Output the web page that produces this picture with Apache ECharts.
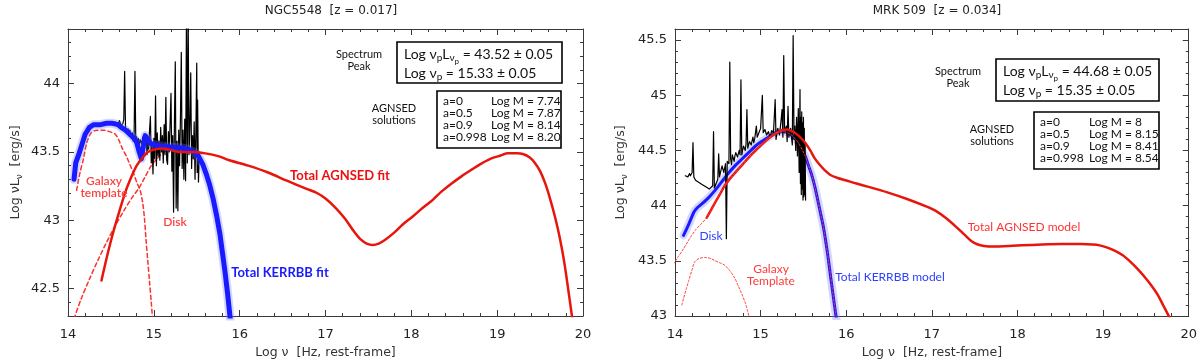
<!DOCTYPE html>
<html><head><meta charset="utf-8">
<script src="https://cdn.jsdelivr.net/npm/echarts@6/dist/echarts.min.js"></script>
<style>html,body{margin:0;padding:0;background:#fff}#c{width:1200px;height:364px}</style>
</head><body><div id="c"></div>
<script>
// ---------- tick values ----------
const leftYMajor = [42.5, 43, 43.5, 44];
const leftYMinor = [42.4, 42.5, 42.6, 42.7, 42.8, 42.9, 43.0, 43.1, 43.2, 43.3, 43.4, 43.5, 43.6, 43.7, 43.8, 43.9, 44.0, 44.1, 44.2, 44.3];
const rightYMajor = [43, 43.5, 44, 44.5, 45, 45.5];
const rightYMinor = [43.1, 43.2, 43.3, 43.4, 43.5, 43.6, 43.7, 43.8, 43.9, 44.0, 44.1, 44.2, 44.3, 44.4, 44.5, 44.6, 44.7, 44.8, 44.9, 45.0, 45.1, 45.2, 45.3, 45.4, 45.5];

// ---------- NGC5548 ----------
const ngcKerrbb = [[14.07,43.30],[14.09,43.42],[14.13,43.49],[14.17,43.57],[14.20,43.63],[14.25,43.68],[14.30,43.70],[14.38,43.70],[14.45,43.71],[14.52,43.71],[14.58,43.70],[14.62,43.68],[14.67,43.66],[14.72,43.63],[14.77,43.60],[14.80,43.57],[14.83,43.50],[14.855,43.45],[14.875,43.53],[14.90,43.62],[14.93,43.59],[14.97,43.56],[15.03,43.55],[15.12,43.54],[15.22,43.535],[15.32,43.53],[15.40,43.52],[15.47,43.50],[15.52,43.47],[15.57,43.41],[15.61,43.34],[15.65,43.26],[15.69,43.16],[15.73,43.04],[15.77,42.90],[15.80,42.76],[15.83,42.62],[15.86,42.46],[15.89,42.28]];
const ngcAgnsed = [[14.39,42.56],[14.46,42.75],[14.53,42.92],[14.60,43.07],[14.67,43.21],[14.74,43.32],[14.80,43.40],[14.87,43.46],[14.93,43.50],[15.02,43.52],[15.10,43.525],[15.20,43.515],[15.30,43.50],[15.45,43.50],[15.60,43.49],[15.75,43.47],[15.88,43.44],[16.10,43.40],[16.33,43.35],[16.55,43.29],[16.78,43.23],[16.90,43.20],[17.00,43.16],[17.12,43.09],[17.23,43.01],[17.33,42.92],[17.41,42.86],[17.48,42.83],[17.55,42.82],[17.62,42.83],[17.70,42.86],[17.80,42.91],[17.90,42.97],[18.02,43.03],[18.13,43.09],[18.25,43.15],[18.35,43.21],[18.47,43.27],[18.58,43.32],[18.70,43.37],[18.80,43.41],[18.92,43.45],[19.02,43.47],[19.12,43.49],[19.23,43.49],[19.30,43.485],[19.38,43.46],[19.44,43.42],[19.50,43.36],[19.56,43.27],[19.62,43.15],[19.68,43.01],[19.73,42.87],[19.78,42.70],[19.82,42.53],[19.86,42.35],[19.88,42.26]];
const ngcGalaxy = [[14.10,43.22],[14.14,43.35],[14.18,43.45],[14.22,43.57],[14.27,43.64],[14.34,43.66],[14.41,43.66],[14.48,43.65],[14.55,43.63],[14.59,43.59],[14.63,43.53],[14.68,43.47],[14.72,43.41],[14.76,43.35],[14.80,43.28],[14.84,43.22],[14.87,43.13],[14.89,43.02],[14.91,42.85],[14.93,42.70],[14.95,42.55],[14.97,42.40],[14.985,42.28]];
const ngcDisk = [[14.07,42.28],[14.15,42.42],[14.25,42.57],[14.35,42.71],[14.45,42.84],[14.55,42.96],[14.65,43.07],[14.75,43.17],[14.82,43.23],[14.90,43.32],[14.97,43.40],[15.05,43.46],[15.12,43.50],[15.20,43.52]];
const ngcSpectrum = [[14.52,43.71],[14.55,43.72],[14.58,43.70],[14.60,43.73],[14.62,43.69],[14.64,43.71],[14.65,43.74],[14.66,44.09],[14.67,43.68],[14.68,43.64],[14.70,43.67],[14.71,43.62],[14.72,43.66],[14.74,43.60],[14.75,43.64],[14.76,43.58],[14.77,43.62],[14.78,44.09],[14.79,43.57],[14.80,43.61],[14.81,43.55],[14.82,43.60],[14.83,43.53],[14.84,43.59],[14.86,43.56],[14.87,43.61],[14.88,43.52],[14.89,43.63],[14.90,43.55],[14.91,43.60],[14.92,43.48],[14.93,43.58],[14.94,43.52],[14.95,43.66],[14.96,43.76],[14.97,43.42],[14.98,43.56],[14.99,43.34],[15.00,43.60],[15.01,43.45],[15.02,43.91],[15.03,43.40],[15.04,43.64],[15.05,43.47],[15.06,43.58],[15.07,43.44],[15.08,43.68],[15.09,43.50],[15.10,43.62],[15.11,43.42],[15.12,43.70],[15.13,43.48],[15.14,43.90],[15.15,43.44],[15.16,43.41],[15.17,43.65],[15.18,43.50],[15.19,43.72],[15.20,43.93],[15.21,43.36],[15.22,43.62],[15.23,43.06],[15.24,43.72],[15.25,44.16],[15.26,43.09],[15.27,43.58],[15.28,43.07],[15.29,43.66],[15.30,43.40],[15.31,43.75],[15.32,44.23],[15.33,43.38],[15.34,43.66],[15.35,43.30],[15.36,43.74],[15.37,43.29],[15.38,44.50],[15.39,43.42],[15.40,44.50],[15.41,43.48],[15.42,43.70],[15.43,44.08],[15.44,43.38],[15.45,43.62],[15.46,43.45],[15.47,43.72],[15.48,43.30],[15.49,43.66],[15.50,44.15],[15.505,43.35],[15.51,43.88],[15.52,43.28],[15.53,43.50]];

// ---------- MRK 509 ----------
const mrkKerrbb = [[14.10,43.73],[14.16,43.83],[14.22,43.94],[14.26,43.98],[14.32,44.02],[14.39,44.07],[14.47,44.14],[14.54,44.21],[14.62,44.29],[14.70,44.36],[14.78,44.42],[14.86,44.48],[14.94,44.54],[15.01,44.58],[15.09,44.62],[15.17,44.66],[15.22,44.67],[15.27,44.67],[15.32,44.66],[15.36,44.64],[15.40,44.61],[15.44,44.57],[15.48,44.51],[15.52,44.45],[15.56,44.36],[15.60,44.27],[15.64,44.15],[15.67,44.04],[15.70,43.93],[15.73,43.82],[15.76,43.68],[15.79,43.52],[15.82,43.34],[15.85,43.17],[15.88,43.00],[15.90,42.90]];
const mrkAgnsed = [[14.37,43.89],[14.42,43.96],[14.47,44.03],[14.53,44.11],[14.58,44.18],[14.66,44.26],[14.74,44.33],[14.82,44.40],[14.89,44.46],[14.97,44.52],[15.05,44.58],[15.13,44.63],[15.21,44.67],[15.26,44.685],[15.30,44.69],[15.35,44.68],[15.40,44.66],[15.46,44.62],[15.52,44.57],[15.58,44.50],[15.63,44.43],[15.69,44.37],[15.75,44.32],[15.81,44.28],[15.90,44.25],[15.99,44.23],[16.12,44.20],[16.26,44.17],[16.48,44.12],[16.71,44.06],[16.94,43.99],[17.05,43.95],[17.16,43.89],[17.28,43.81],[17.39,43.73],[17.46,43.68],[17.53,43.65],[17.61,43.635],[17.72,43.63],[17.84,43.632],[18.05,43.64],[18.29,43.648],[18.52,43.652],[18.74,43.652],[18.88,43.648],[18.96,43.64],[19.05,43.62],[19.14,43.59],[19.23,43.55],[19.32,43.49],[19.41,43.42],[19.50,43.34],[19.57,43.27],[19.64,43.19],[19.70,43.10],[19.76,43.01],[19.80,42.94]];
const mrkGalaxy = [[14.08,43.10],[14.10,43.16],[14.13,43.24],[14.16,43.32],[14.20,43.42],[14.23,43.49],[14.28,43.52],[14.35,43.53],[14.42,43.52],[14.47,43.50],[14.53,43.48],[14.58,43.46],[14.63,43.42],[14.66,43.39],[14.70,43.34],[14.74,43.27],[14.78,43.20],[14.82,43.12],[14.85,43.04],[14.87,42.98]];
const mrkDisk = [[13.98,43.47],[14.04,43.54],[14.10,43.61],[14.17,43.70],[14.24,43.78],[14.30,43.83],[14.37,43.89],[14.47,44.03],[14.58,44.18],[14.74,44.33],[14.89,44.46],[15.05,44.58],[15.17,44.655],[15.27,44.67],[15.36,44.64],[15.44,44.57],[15.52,44.45],[15.60,44.27],[15.67,44.04],[15.73,43.82],[15.79,43.52],[15.85,43.17],[15.90,42.90]];
const mrkSpectrum = [[14.12,44.27],[14.14,44.28],[14.15,44.26],[14.17,44.29],[14.18,44.27],[14.20,44.30],[14.21,44.57],[14.22,44.26],[14.24,44.23],[14.26,44.22],[14.28,44.21],[14.30,44.20],[14.32,44.19],[14.34,44.18],[14.36,44.17],[14.38,44.16],[14.40,44.15],[14.42,44.16],[14.44,44.18],[14.45,44.67],[14.46,44.16],[14.48,44.20],[14.50,44.24],[14.51,44.47],[14.52,44.26],[14.54,44.33],[14.55,44.36],[14.57,44.30],[14.59,44.38],[14.60,43.70],[14.61,44.40],[14.63,44.38],[14.64,45.30],[14.65,44.42],[14.66,44.37],[14.67,44.46],[14.69,44.40],[14.70,44.45],[14.71,44.48],[14.73,44.44],[14.75,44.50],[14.76,44.46],[14.77,45.14],[14.78,44.46],[14.80,44.54],[14.82,44.50],[14.83,44.56],[14.84,44.87],[14.85,44.52],[14.87,44.58],[14.89,44.55],[14.91,44.62],[14.92,44.57],[14.93,44.60],[14.95,44.72],[14.96,44.62],[14.98,44.66],[15.00,44.70],[15.02,45.00],[15.03,44.66],[15.05,44.69],[15.07,44.64],[15.09,44.67],[15.11,44.62],[15.13,44.68],[15.15,44.66],[15.17,44.96],[15.18,44.60],[15.20,44.70],[15.22,44.64],[15.24,44.78],[15.25,44.87],[15.26,44.62],[15.27,45.36],[15.28,44.66],[15.30,44.72],[15.31,44.58],[15.32,44.90],[15.33,44.62],[15.35,44.70],[15.37,44.55],[15.38,45.54],[15.39,44.60],[15.40,44.72],[15.41,44.50],[15.42,44.80],[15.43,44.45],[15.44,44.88],[15.45,44.30],[15.46,45.05],[15.465,44.20],[15.47,44.80],[15.475,44.10],[15.48,44.85],[15.485,44.15],[15.49,44.75],[15.495,44.05],[15.50,44.80],[15.505,44.08],[15.51,44.70],[15.515,44.10],[15.52,44.55],[15.525,44.05]];

const FONT = 'DejaVu Sans';
const LFONT = 'Lato';
const RED = '#e8150c';
const BLUE = '#1a1aff';
const FRAME = '#3a3a3a';

function xAxes(g) {
  const base = {
    type: 'value', gridIndex: g, min: 14, max: 20, interval: 1,
    axisLine: { show: true, onZero: false, lineStyle: { color: FRAME, width: 1 } },
    axisTick: { show: true, inside: true, length: 6, lineStyle: { color: FRAME } },
    minorTick: { show: true, splitNumber: 5, length: 3, lineStyle: { color: FRAME } },
    splitLine: { show: false }
  };
  return [
    Object.assign({}, base, {
      position: 'bottom',
      axisLabel: { color: '#222', fontSize: 13, margin: 12, fontFamily: FONT },
      name: 'Log ν  [Hz, rest-frame]', nameLocation: 'middle', nameGap: 30,
      nameTextStyle: { fontSize: 12.5, color: '#333', fontFamily: FONT }
    }),
    Object.assign({}, base, { position: 'top', axisLabel: { show: false } })
  ];
}
function yAxes(g, min, max, major, minor, gap) {
  const line = { show: true, onZero: false, lineStyle: { color: FRAME, width: 1 } };
  const mk = (pos, isMajor, labels) => ({
    type: 'value', gridIndex: g, min: min, max: max, position: pos,
    axisLine: isMajor ? line : { show: false },
    axisTick: { show: true, inside: true, length: isMajor ? 6 : 3, customValues: isMajor ? major : minor, lineStyle: { color: FRAME } },
    axisLabel: labels ? { show: true, customValues: major, color: '#222', fontSize: 13, margin: 8, fontFamily: FONT } : { show: false },
    splitLine: { show: false },
    name: labels ? 'Log νL{s|ν}  [erg/s]' : '',
    nameLocation: 'middle', nameGap: gap, nameRotate: 90,
    nameTextStyle: { fontSize: 12.5, color: '#333', fontFamily: FONT,
      rich: { s: { fontSize: 9, padding: [8, 0, 0, 0], fontFamily: FONT, color: '#333' } } }
  });
  return [mk('left', true, true), mk('left', false, false), mk('right', true, false), mk('right', false, false)];
}
function ln(data, xi, yi, color, width, type, z, smooth) {
  return { type: 'line', data: data, xAxisIndex: xi, yAxisIndex: yi, showSymbol: false, symbol: 'none',
    smooth: smooth || false, z: z, silent: true,
    lineStyle: { color: color, width: width, type: type || 'solid', cap: 'round', join: 'round' } };
}

const series = [
  ln(ngcGalaxy, 0, 0, '#ff3030', 1.5, [4, 3], 2, 0.3),
  ln(ngcDisk, 0, 0, '#ff3030', 1.5, [4, 3], 2, 0.3),
  ln(ngcSpectrum, 0, 0, '#000', 1.2, 'solid', 3),
  ln(ngcKerrbb, 0, 0, 'rgba(110,120,255,0.3)', 9, 'solid', 4),
  ln(ngcKerrbb, 0, 0, BLUE, 5, 'solid', 5),
  ln(ngcAgnsed, 0, 0, RED, 2.5, 'solid', 6, 0.3),

  ln(mrkGalaxy, 2, 4, '#ff3b3b', 1, [2, 2], 2, 0.3),
  ln(mrkKerrbb, 2, 4, 'rgba(110,120,255,0.3)', 8, 'solid', 3, 0.2),
  ln(mrkKerrbb, 2, 4, BLUE, 3, 'solid', 4, 0.2),
  ln(mrkSpectrum, 2, 4, '#000', 1.2, 'solid', 5),
  ln(mrkAgnsed, 2, 4, RED, 2.5, 'solid', 6, 0.3),
  ln(mrkDisk, 2, 4, '#ff3b3b', 1, [2, 2], 7, 0.2)
];

function txt(x, y, text, opt) {
  return { type: 'text', x: x, y: y, z: 100, silent: true,
    style: Object.assign({ text: text, fill: '#111', font: '11px ' + LFONT, align: 'center', verticalAlign: 'middle',
      textAlign: 'center', textVerticalAlign: 'middle' }, opt || {}) };
}
function rect(x, y, w, h) {
  return { type: 'rect', z: 100, silent: true, shape: { x: x, y: y, width: w, height: h },
    style: { fill: 'rgba(255,255,255,0)', stroke: '#000', lineWidth: 1.6 } };
}
const peakRich = {
  s: { fontSize: 10, fontFamily: LFONT, fill: '#111', padding: [8, 0, 0, 0] },
  ss: { fontSize: 8, fontFamily: LFONT, fill: '#111', padding: [14, 0, 0, 0] }
};
function peakBox(x, y, w, h, lum, nu) {
  return [
    rect(x, y, w, h),
    txt(x + 7, y + 12, 'Log ν{s|p}L{s|ν}{ss|p} = ' + lum + ' ± 0.05', { align: 'left', textAlign: 'left', font: '14px ' + LFONT, rich: peakRich }),
    txt(x + 7, y + 31, 'Log ν{s|p} = ' + nu + ' ± 0.05', { align: 'left', textAlign: 'left', font: '14px ' + LFONT, rich: peakRich })
  ];
}
function massBox(x, y, w, h, masses, colOffset) {
  const spins = ['a=0', 'a=0.5', 'a=0.9', 'a=0.998'];
  const els = [rect(x, y, w, h)];
  spins.forEach((s, i) => {
    els.push(txt(x + 6, y + 10 + i * 12.2, s, { align: 'left', textAlign: 'left', font: '12px ' + LFONT }));
    els.push(txt(x + colOffset, y + 10 + i * 12.2, 'Log M = ' + masses[i], { align: 'left', textAlign: 'left', font: '12px ' + LFONT }));
  });
  return els;
}
const ngcMasses = ['7.74', '7.87', '8.14', '8.20'];
const mrkMasses = ['8', '8.15', '8.41', '8.54'];

const graphics = [].concat(
  peakBox(397, 42, 165, 41, '43.52', '15.33'),
  massBox(437, 91, 124, 57, ngcMasses, 54),
  [txt(359, 60, 'Spectrum\nPeak', { lineHeight: 12 }), txt(394, 114, 'AGNSED\nsolutions', { lineHeight: 12 })],
  peakBox(996, 59, 163, 42, '44.68', '15.35'),
  massBox(1034, 112, 125, 57, mrkMasses, 55),
  [txt(958, 77, 'Spectrum\nPeak', { lineHeight: 12 }), txt(992, 135, 'AGNSED\nsolutions', { lineHeight: 12 })],
  [
    txt(104, 187, 'Galaxy\ntemplate', { fill: '#ff4040', font: '600 12px ' + LFONT, lineHeight: 12 }),
    txt(175, 222, 'Disk', { fill: '#ff4040', font: '600 12px ' + LFONT }),
    txt(340, 176, 'Total AGNSED fit', { fill: '#ee1010', font: 'bold 13px ' + LFONT }),
    txt(280, 273, 'Total KERRBB fit', { fill: '#1a1aff', font: 'bold 13px ' + LFONT }),
    txt(711, 236, 'Disk', { fill: '#3040ff', font: '12px ' + LFONT }),
    txt(771, 275, 'Galaxy\nTemplate', { fill: '#ff3b3b', font: '12px ' + LFONT, lineHeight: 12 }),
    txt(890, 277, 'Total KERRBB model', { fill: '#3040ff', font: '12px ' + LFONT }),
    txt(1024, 227, 'Total AGNSED model', { fill: '#ff3333', font: '12px ' + LFONT })
  ]
);

const option = {
  animation: false,
  backgroundColor: '#fff',
  title: [
    { text: 'NGC5548  [z = 0.017]', left: 326, top: 0, textAlign: 'center', textStyle: { fontSize: 12, fontWeight: 'normal', color: '#222', fontFamily: FONT } },
    { text: 'MRK 509  [z = 0.034]', left: 932, top: 0, textAlign: 'center', textStyle: { fontSize: 12, fontWeight: 'normal', color: '#222', fontFamily: FONT } }
  ],
  grid: [
    { left: 68, right: 617, top: 29, bottom: 48, show: false },
    { left: 675, right: 11, top: 29, bottom: 46, show: false }
  ],
  xAxis: [].concat(xAxes(0), xAxes(1)),
  yAxis: [].concat(yAxes(0, 42.3, 44.4, leftYMajor, leftYMinor, 44), yAxes(1, 43, 45.6, rightYMajor, rightYMinor, 46)),
  series: series,
  graphic: { elements: graphics }
};
const chart = echarts.init(document.getElementById('c'), null, { renderer: 'canvas' });
chart.setOption(option);
</script>
</body></html>
